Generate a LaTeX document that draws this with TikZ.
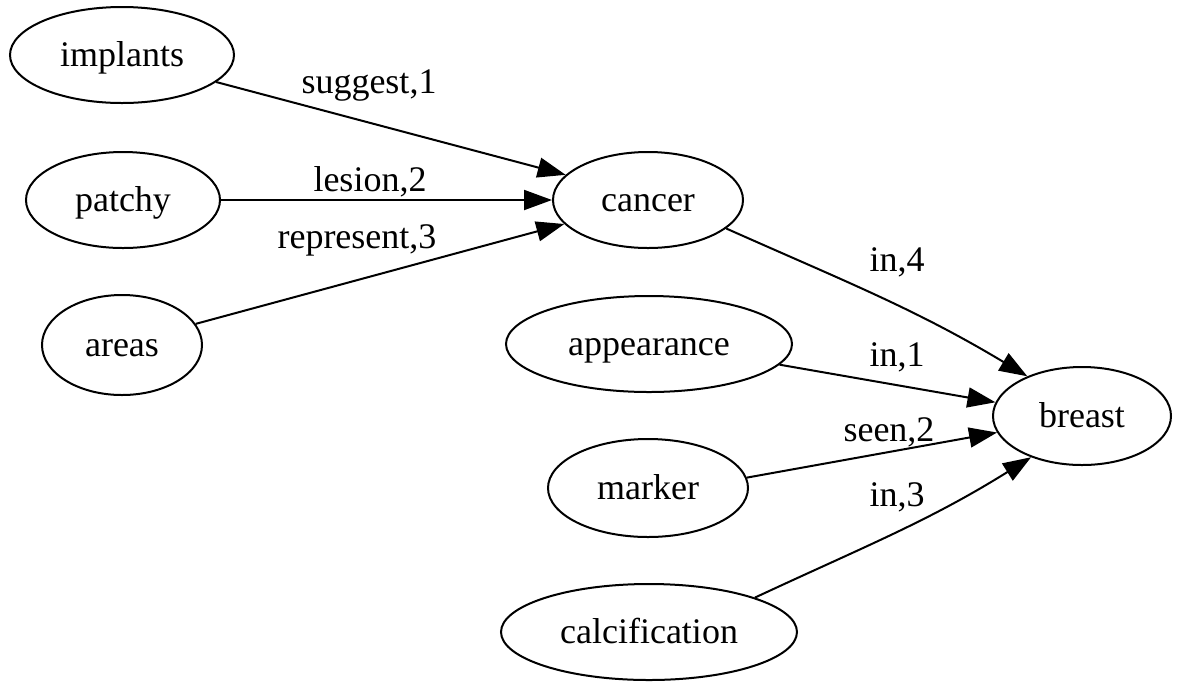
\documentclass[tikz,border=0pt]{standalone}
\usepackage{fontspec}
\setmainfont{Liberation Serif}
\usetikzlibrary{arrows.meta,shapes.geometric}
\begin{document}
\begin{tikzpicture}[x=0.5pt,y=-0.5pt,
  every node/.style={font=\fontsize{18}{20}\selectfont},
  ell/.style={draw,ellipse,line width=1pt,inner sep=0pt,text height=14pt,text depth=3pt},
  edge/.style={line width=1pt,-{Triangle[length=14pt,width=10pt]}},
  lbl/.style={inner sep=0pt}]
\useasboundingbox (0,0) rectangle (1179,682);
\node[ell,minimum width=112pt,minimum height=48pt] (implants) at (122,55) {implants};
\node[ell,minimum width=97pt,minimum height=48pt] (patchy) at (123,200) {patchy};
\node[ell,minimum width=80pt,minimum height=50pt] (areas) at (122,345) {areas};
\node[ell,minimum width=95pt,minimum height=48pt] (cancer) at (648,200) {cancer};
\node[ell,minimum width=143pt,minimum height=48pt] (appearance) at (649,344) {appearance};
\node[ell,minimum width=100pt,minimum height=49pt] (marker) at (648,488) {marker};
\node[ell,minimum width=148pt,minimum height=48pt] (calcification) at (649,632) {calcification};
\node[ell,minimum width=89pt,minimum height=49pt] (breast) at (1082,416) {breast};

\draw[edge] (implants.-16) -- (cancer.163);
\draw[edge] (patchy.east) -- (cancer.west);
\draw[edge] (areas.16) -- (cancer.196);
\draw[edge] (cancer.-20) to[out=-24,in=149] (breast.144);
\draw[edge] (appearance.-9) -- (breast.171);
\draw[edge] (marker.6) -- (breast.191);
\draw[edge] (calcification.18) to[out=25,in=212] (breast.219);

\node[lbl] (l1) at (369,85) {suggest,1};
\node[lbl] (l2) at (370,182) {lesion,2};
\node[lbl] (l3) at (357,240) {represent,3};
\node[lbl] (l4) at (897,262) {in,4};
\node[lbl] (l5) at (897,357) {in,1};
\node[lbl] (l6) at (889,432) {seen,2};
\node[lbl] (l7) at (897,497) {in,3};
\end{tikzpicture}
\end{document}
